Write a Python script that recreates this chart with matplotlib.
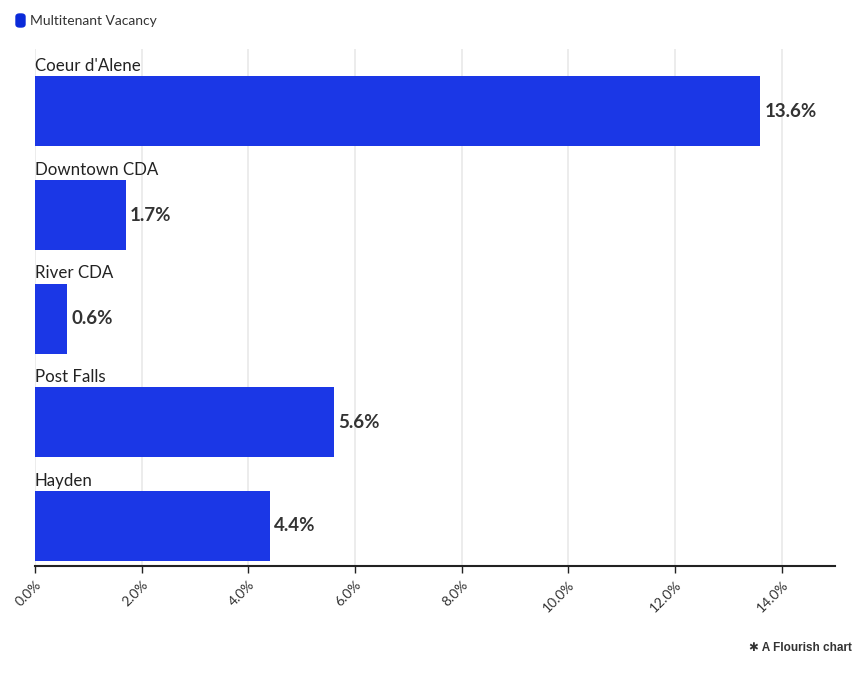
import matplotlib
matplotlib.use("Agg")
import matplotlib.pyplot as plt
from matplotlib.patches import FancyBboxPatch

categories = ["Coeur d'Alene", "Downtown CDA", "River CDA", "Post Falls", "Hayden"]
values = [13.6, 1.7, 0.6, 5.6, 4.4]
value_labels = ["13.6%", "1.7%", "0.6%", "5.6%", "4.4%"]
xticks = [0, 2, 4, 6, 8, 10, 12, 14]
xtick_labels = ["0.0%", "2.0%", "4.0%", "6.0%", "8.0%", "10.0%", "12.0%", "14.0%"]
legend_label = "Multitenant Vacancy"

W, H = 865, 673
fig = plt.figure(figsize=(W/100, H/100), dpi=100)
plt.rcParams['font.family'] = ['Lato', 'DejaVu Sans']
left, right, top, bottom = 35, 835, 49, 566
ax = fig.add_axes([left/W, 1-bottom/H, (right-left)/W, (bottom-top)/H])

color = '#1b37e6'
ys = list(range(len(categories)))
ax.barh(ys, values, height=0.675, color=color, zorder=3)
ax.set_xlim(0, 15)
ax.set_ylim(4.386, -0.602)
for y, v, lab, cat in zip(ys, values, value_labels, categories):
    ax.text(v + 0.08, y, lab, va='center', ha='left', fontsize=13.5, fontweight='bold', color='#333333')
    ax.text(0, y - 0.36, cat, va='bottom', ha='left', fontsize=12.2, color='#222222')

ax.set_xticks(xticks)
ax.set_xticklabels(xtick_labels, rotation=45, ha='right', rotation_mode='anchor', fontsize=10, color='#333333')
ax.set_yticks([])
for s in ['top', 'right', 'left']:
    ax.spines[s].set_visible(False)
ax.spines['bottom'].set_linewidth(1.5)
ax.spines['bottom'].set_color('#222222')
ax.tick_params(axis='x', length=5, width=1, color='#222222', pad=4)
ax.grid(axis='x', color='#ebebeb', linewidth=1.3, zorder=0)
ax.set_axisbelow(True)

# legend
sw = FancyBboxPatch((16/W, 1-27/H), 9/W, 13/H, boxstyle="round,pad=0,rounding_size=0.004",
                    transform=fig.transFigure, color='#0a2ad9', figure=fig)
fig.patches.append(sw)
fig.text(30/W, 1-21/H, legend_label, fontsize=10, color='#333333', va='center', ha='left')

fig.text(852/W, 1-648/H, "✱ A Flourish chart", fontsize=8.5, fontweight='bold', color='#333333',
         va='center', ha='right', family=['Liberation Sans', 'DejaVu Sans'])

fig.savefig('out.png', dpi=100)
